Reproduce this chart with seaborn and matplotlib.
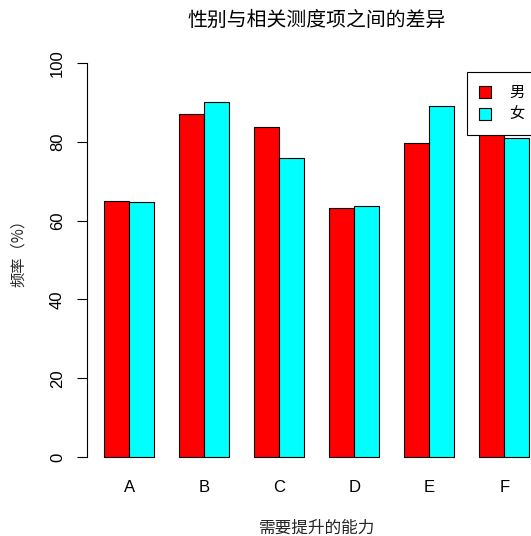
import matplotlib
matplotlib.use("Agg")
import matplotlib.pyplot as plt
from matplotlib.patches import Patch
import pandas as pd
import seaborn as sns

# Categories and frequency (%) by gender
abilities = ["A", "B", "C", "D", "E", "F"]
male = [65.0, 87.1, 83.8, 63.3, 79.8, 85.0]
female = [64.6, 90.1, 76.0, 63.7, 89.2, 80.9]
genders = ["男", "女"]
colors = ["#FF0000", "#00FFFF"]
y_ticks = [0, 20, 40, 60, 80, 100]

df = pd.DataFrame({
    "ability": abilities * 2,
    "gender": [genders[0]] * len(abilities) + [genders[1]] * len(abilities),
    "freq": male + female,
})

sns.set_theme(style="white")
plt.rcParams["font.family"] = ["Liberation Sans", "Noto Sans CJK SC", "DejaVu Sans"]
plt.rcParams["text.color"] = "black"
plt.rcParams["xtick.color"] = "black"
plt.rcParams["ytick.color"] = "black"
cjk = ["Noto Sans CJK SC", "DejaVu Sans"]

W, H = 531, 536
fig = plt.figure(figsize=(W / 100, H / 100), dpi=100)
left_px, right_px, top_px, bottom_px = 87.3, 546.3, 47.2, 472.8
ax_h = bottom_px - top_px
ax = fig.add_axes([left_px / W, 1 - bottom_px / H,
                   (right_px - left_px) / W, ax_h / H])

sns.barplot(data=df, x="ability", y="freq", hue="gender", hue_order=genders,
            palette=colors, width=2 / 3, gap=0, saturation=1,
            edgecolor="black", linewidth=0.8, legend=False, ax=ax)

ax.set_xlim(-0.56, 5.56)
ax.set_ylim(-4, 104)
for s in ["top", "right", "bottom"]:
    ax.spines[s].set_visible(False)
ax.spines["left"].set_bounds(0, 100)
ax.spines["left"].set_color("black")
ax.spines["left"].set_linewidth(0.8)

ax.set_yticks(y_ticks)
ax.set_yticklabels([str(t) for t in y_ticks], rotation=90, va="center",
                   fontsize=12)
ax.tick_params(axis="y", direction="out", length=7.5, width=0.8,
               color="black", pad=8.5, left=True)
ax.tick_params(axis="x", length=0, pad=5, labelsize=12)

ax.set_xlabel("需要提升的能力", family=cjk, fontsize=12)
ax.xaxis.set_label_coords(0.5, -(528 - bottom_px) / ax_h)
ax.xaxis.label.set_va("center")
ax.set_ylabel("频率（%）", family=cjk, fontsize=11)
ax.yaxis.set_label_coords((18 - left_px) / (right_px - left_px), 0.5 + 11 / ax_h)
ax.yaxis.label.set_va("center")

ax.set_title("性别与相关测度项之间的差异", family=cjk, fontsize=14.3,
             y=(bottom_px - 20) / ax_h, va="center", pad=0)

handles = [Patch(facecolor=c, edgecolor="black", linewidth=0.8) for c in colors]
leg = ax.legend(handles, genders, loc="upper left",
                bbox_to_anchor=(467.3 / W, 1 - 72.3 / H),
                bbox_transform=fig.transFigure, borderaxespad=0,
                frameon=True, fancybox=False, framealpha=1,
                edgecolor="black", prop={"family": cjk, "size": 11},
                handlelength=0.8, handleheight=0.8, handletextpad=1.2,
                labelspacing=0.32, borderpad=0.78)
leg.get_frame().set_linewidth(0.8)

fig.savefig("out.png", dpi=100)
